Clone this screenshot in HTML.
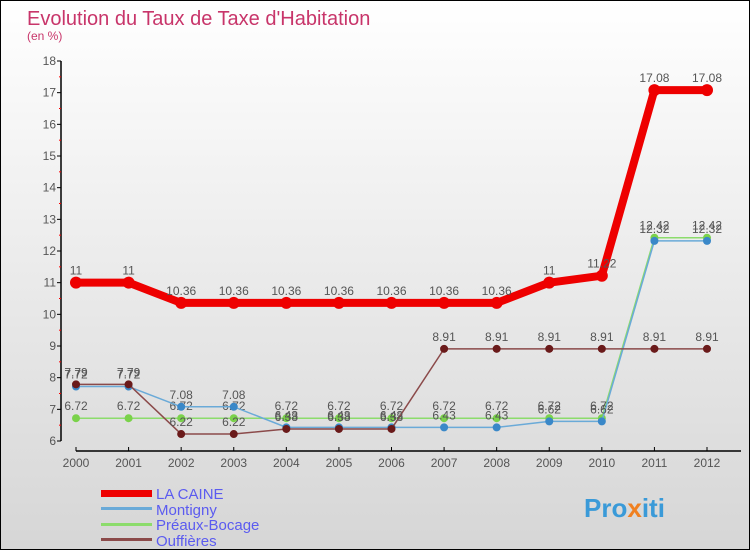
<!DOCTYPE html>
<html><head><meta charset="utf-8"><style>
body{margin:0;}
#c{position:relative;width:748px;height:548px;border:1px solid #000;background:linear-gradient(#fff,#d6d6d6);overflow:hidden;font-family:"Liberation Sans",sans-serif;}
</style></head><body>
<div id="c">
<svg id="s" width="748" height="548" style="position:absolute;left:0;top:0">
<text x="26" y="24" font-size="20" fill="#c8356a">Evolution du Taux de Taxe d'Habitation</text>
<text x="26" y="39" font-size="12" fill="#c8356a">(en %)</text>
<g id="axes"></g><g id="series"></g>
<g id="legend" font-size="15" fill="#5b5bf0">
<rect x="100" y="489" width="51" height="7" fill="#ee0000"/>
<text x="155" y="498">LA CAINE</text>
<rect x="100" y="506" width="51" height="3" fill="#6aaad8"/>
<text x="155" y="514">Montigny</text>
<rect x="100" y="522" width="51" height="3" fill="#8cdc6c"/>
<text x="155" y="529">Préaux-Bocage</text>
<rect x="100" y="537" width="51" height="3" fill="#8b4a4a"/>
<text x="155" y="545">Ouffières</text>
</g>
<text x="583" y="516" font-size="26" font-weight="bold" fill="#3a9ad8">Pro<tspan fill="#f08020">x</tspan>iti</text>
</svg>
</div>
<script>
const years=[2000,2001,2002,2003,2004,2005,2006,2007,2008,2009,2010,2011,2012];
const laCaine=[11,11,10.36,10.36,10.36,10.36,10.36,10.36,10.36,11,11.22,17.08,17.08];
const montigny=[7.72,7.72,7.08,7.08,6.43,6.43,6.43,6.43,6.43,6.62,6.62,12.32,12.32];
const preaux=[6.72,6.72,6.72,6.72,6.72,6.72,6.72,6.72,6.72,6.72,6.72,12.42,12.42];
const ouffieres=[7.79,7.79,6.22,6.22,6.38,6.38,6.38,8.91,8.91,8.91,8.91,8.91,8.91];
const yTicks=[6,7,8,9,10,11,12,13,14,15,16,17,18];
const NS='http://www.w3.org/2000/svg';
const x=i=>75+i*(706-75)/(years.length-1);
const y=v=>440-(v-6)*(380/12);
function mk(t,a,p){const e=document.createElementNS(NS,t);for(const k in a)e.setAttribute(k,a[k]);p.appendChild(e);return e;}
const ax=document.getElementById('axes');
let yl=mk('line',{x1:60,y1:60,x2:60,y2:440,stroke:'#000','stroke-width':1.5},ax);


yTicks.forEach(v=>{
 mk('line',{x1:56,x2:60,y1:y(v),y2:y(v),stroke:'#000'},ax);
 if(v<18)mk('line',{x1:58,x2:60,y1:y(v+0.5),y2:y(v+0.5),stroke:'#f00'},ax);
 const t=mk('text',{x:55,y:y(v)+4,'font-size':12,fill:'#555','text-anchor':'end'},ax);
 
 
 t.textContent=v;
});
let xl=mk('line',{x1:75,y1:450,x2:740,y2:450,stroke:'#000','stroke-width':1.5},ax);


years.forEach((yr,i)=>{
 mk('line',{x1:x(i),x2:x(i),y1:446,y2:450,stroke:'#000'},ax);
 const t=mk('text',{x:x(i),y:466,'font-size':12,fill:'#555','text-anchor':'middle'},ax);
 
 
 t.textContent=yr;
});
const sg=document.getElementById('series');
function series(data,color,w,r,name,dot){
 const g=mk('g',{},sg);
 
 
 const pl=mk('polyline',{points:data.map((v,i)=>x(i)+','+y(v)).join(' '),fill:'none',stroke:color,'stroke-width':w,'stroke-linejoin':'round'},g);
 
 
 data.forEach((v,i)=>{
  const c=mk('circle',{cx:x(i),cy:y(v),r:r,fill:dot},g);
  
  
  const t=mk('text',{x:x(i),y:y(v)-8,'font-size':12,fill:'#555','text-anchor':'middle'},g);
  
  
  t.textContent=String(v);
 });
}
series(preaux,'#8cdc6c',1.5,4,'preaux-bocage','#7ad24a');
series(montigny,'#6aaad8',1.5,4,'montigny','#3a88c8');
series(ouffieres,'#8b4a4a',1.5,4,'ouffieres','#6a1a1a');
series(laCaine,'#ee0000',8,6,'la-caine','#ee0000');
</script>
</body></html>
